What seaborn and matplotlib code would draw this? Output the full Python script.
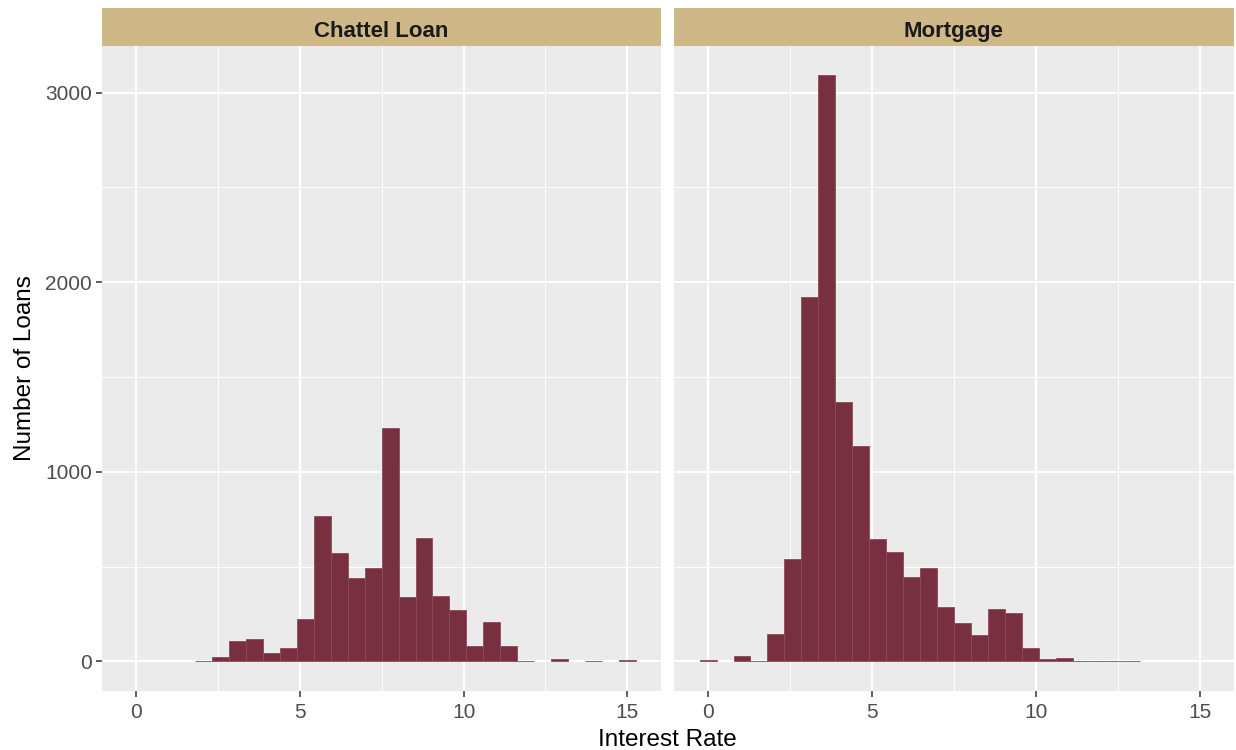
import matplotlib

matplotlib.use("Agg")

import matplotlib.pyplot as plt
import numpy as np
import pandas as pd
import seaborn as sns
from matplotlib.patches import Rectangle

# histogram counts, one value per bin (30 bins over 0..15)
loan_types = ["Chattel Loan", "Mortgage"]
chattel_counts = [0, 0, 0, 0, 4, 25, 109, 119, 43, 72, 224, 769, 573, 439, 494,
                  1230, 340, 653, 345, 269, 80, 208, 80, 3, 0, 13, 0, 3, 0, 10]
mortgage_counts = [10, 0, 27, 2, 146, 539, 1924, 3091, 1368, 1134, 646, 579, 447, 491, 288,
                   205, 141, 274, 254, 71, 12, 18, 2, 2, 1, 1, 0, 0, 0, 0]
rate_min, rate_max, n_bins = 0, 15, 30
x_ticks = [0, 5, 10, 15]
y_ticks = [0, 1000, 2000, 3000]

BAR = "#782F40"
GOLD = "#CEB888"

bin_centers = np.linspace(rate_min, rate_max, n_bins)
half = (rate_max - rate_min) / (n_bins - 1) / 2
edges = [float(e) for e in np.linspace(rate_min - half, rate_max + half, n_bins + 1)]

data = pd.DataFrame({
    "loan_type": np.repeat(loan_types, n_bins),
    "rate": np.tile(bin_centers, len(loan_types)),
    "count": chattel_counts + mortgage_counts,
})

sns.set_theme(style="darkgrid", rc={
    "axes.facecolor": "#EBEBEB",
    "grid.color": "white",
    "grid.linewidth": 1.4,
    "xtick.bottom": True,
    "ytick.left": True,
    "xtick.major.size": 4,
    "ytick.major.size": 4,
    "xtick.major.width": 1.1,
    "ytick.major.width": 1.1,
    "xtick.color": "#333333",
    "ytick.color": "#333333",
    "xtick.labelcolor": "#4D4D4D",
    "ytick.labelcolor": "#4D4D4D",
    "xtick.labelsize": 15,
    "ytick.labelsize": 15,
})
plt.rcParams["font.family"] = ["Liberation Sans", "DejaVu Sans"]

g = sns.FacetGrid(data, col="loan_type", col_order=loan_types, sharex=True, sharey=True,
                  despine=False, height=7.5, aspect=0.8)
g.map_dataframe(sns.histplot, x="rate", weights="count", bins=edges, color=BAR, alpha=1,
                edgecolor="#8C4A5A", linewidth=0.6)
g.figure.set_size_inches(12.36, 7.5)
g.figure.subplots_adjust(left=0.0825, right=0.998, bottom=0.079, top=0.9387, wspace=0.023)
g.set_titles("")
g.set_axis_labels("", "")

y_max = max(max(chattel_counts), max(mortgage_counts))
x_span = edges[-1] - edges[0]
strip_h = 38 / 644.7

for i, (ax, name) in enumerate(zip(g.axes.flat, loan_types)):
    for p in ax.patches:
        if p.get_height() == 0:
            p.set_visible(False)
    ax.set_xlim(edges[0] - 0.05 * x_span, edges[-1] + 0.05 * x_span)
    ax.set_ylim(-0.05 * y_max, 1.05 * y_max)
    ax.set_xticks(x_ticks)
    ax.set_xticks([2.5, 7.5, 12.5], minor=True)
    ax.set_yticks(y_ticks)
    ax.set_yticks([500, 1500, 2500], minor=True)
    ax.grid(which="minor", color="white", linewidth=0.7)
    ax.tick_params(which="minor", length=0)
    ax.tick_params(axis="x", which="major", pad=5)
    ax.tick_params(axis="y", which="major", pad=3)
    for s in ax.spines.values():
        s.set_visible(False)
    if i > 0:
        ax.tick_params(axis="y", left=False, labelleft=False)
    else:
        ax.set_yticklabels([str(v) for v in y_ticks])
    ax.add_patch(Rectangle((0, 1), 1, strip_h, transform=ax.transAxes, clip_on=False,
                           facecolor=GOLD, edgecolor="none"))
    ax.text(0.5, 1 + strip_h * 0.45, name, transform=ax.transAxes, ha="center",
            va="center_baseline", fontsize=16, fontweight="bold", color="#1A1A1A")

g.figure.text(0.54, -0.002, "Interest Rate", ha="center", va="bottom", fontsize=17.5, color="black")
g.figure.text(0.011, 0.509, "Number of Loans", ha="left", va="center", rotation=90,
              fontsize=17.5, color="black")

g.figure.savefig("out.png", dpi=100)
plt.close(g.figure)
